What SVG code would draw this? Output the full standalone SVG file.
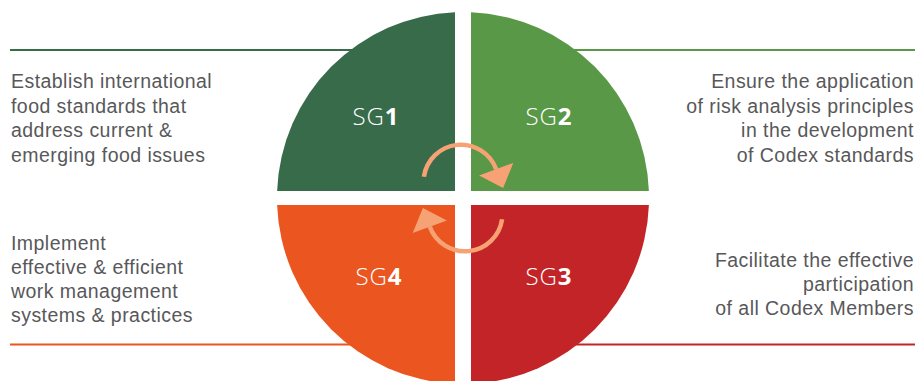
<svg xmlns="http://www.w3.org/2000/svg" width="917" height="381" viewBox="0 0 917 381">
<style>
.desc{font-family:"Liberation Sans",Arial,sans-serif;font-size:19.5px;letter-spacing:0.45px;fill:#58585a}
.r{text-anchor:end}
.sg{font-family:"Open Sans","Liberation Sans",sans-serif;font-size:24px;letter-spacing:1px;fill:#ffffff;text-anchor:middle}
.thin{font-weight:300}
.bold{font-weight:700}
.ln{stroke-width:2.2;fill:none}
.arc{fill:none;stroke:#f7a274;stroke-width:4.5}
</style>
<defs>
<marker id="ah" markerUnits="userSpaceOnUse" markerWidth="40" markerHeight="40" viewBox="-2 -17 22 34" refX="0" refY="0" orient="auto">
<path d="M0,-15.5 L17,0 L0,15.5 Z" fill="#f7a274"/>
</marker>
</defs>
<g id="rules">
<line class="ln" x1="10" y1="50" x2="440" y2="50" stroke="#386b4a"/>
<line class="ln" x1="480" y1="50" x2="915" y2="50" stroke="#589846"/>
<line class="ln" x1="10" y1="344.5" x2="440" y2="344.5" stroke="#ea5520"/>
<line class="ln" x1="480" y1="344.5" x2="915" y2="344.5" stroke="#c32427"/>
</g>
<g id="sg1">
<path d="M455,191 L455,12.2 A186,186 0 0 0 277.1,191 Z" fill="#386b4a"/>
<text class="sg" x="376" y="125"><tspan class="thin">SG</tspan><tspan class="bold">1</tspan></text>
</g>
<g id="sg2">
<path d="M471,191 L471,12.2 A186,186 0 0 1 648.9,191 Z" fill="#589846"/>
<text class="sg" x="549" y="125"><tspan class="thin">SG</tspan><tspan class="bold">2</tspan></text>
</g>
<g id="sg3">
<path d="M471,205 L471,383.8 A186,186 0 0 0 648.9,205 Z" fill="#c32427"/>
<text class="sg" x="549" y="285"><tspan class="thin">SG</tspan><tspan class="bold">3</tspan></text>
</g>
<g id="sg4">
<path d="M455,205 L455,383.8 A186,186 0 0 1 277.1,205 Z" fill="#ea5520"/>
<text class="sg" x="379" y="285"><tspan class="thin">SG</tspan><tspan class="bold">4</tspan></text>
</g>
<g id="connectors">
<path class="arc" d="M423.9,176.8 A37.5,37.5 0 0 1 496.2,169.2" marker-end="url(#ah)"/>
<path class="arc" d="M502.1,219.2 A37.5,37.5 0 0 1 429.8,226.8" marker-end="url(#ah)"/>
</g>
<g id="text-sg1">
<text class="desc" x="11" y="88">Establish international</text>
<text class="desc" x="11" y="112.5">food standards that</text>
<text class="desc" x="11" y="137">address current &amp;</text>
<text class="desc" x="11" y="161.5">emerging food issues</text>
</g>
<g id="text-sg2">
<text class="desc r" x="914" y="88">Ensure the application</text>
<text class="desc r" x="914" y="112.5">of risk analysis principles</text>
<text class="desc r" x="914" y="137">in the development</text>
<text class="desc r" x="914" y="161.5">of Codex standards</text>
</g>
<g id="text-sg4">
<text class="desc" x="11" y="249.5">Implement</text>
<text class="desc" x="11" y="273.5">effective &amp; efficient</text>
<text class="desc" x="11" y="297.5">work management</text>
<text class="desc" x="11" y="321.5">systems &amp; practices</text>
</g>
<g id="text-sg3">
<text class="desc r" x="914" y="266.5">Facilitate the effective</text>
<text class="desc r" x="914" y="290.5">participation</text>
<text class="desc r" x="914" y="314.5">of all Codex Members</text>
</g>
</svg>
